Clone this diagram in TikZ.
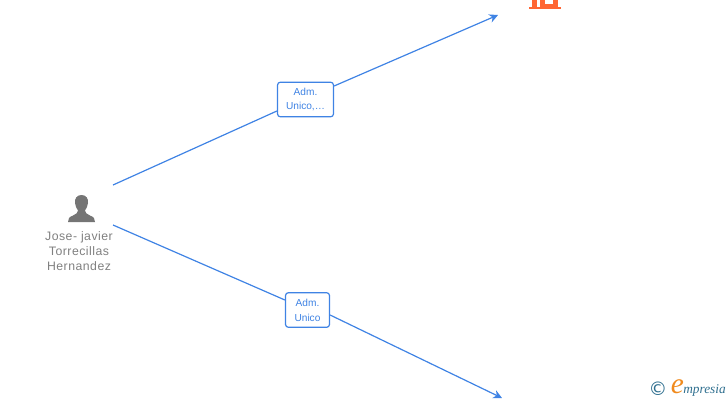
\documentclass[tikz,border=0pt]{standalone}
\usepackage{fontspec}
\setmainfont{Liberation Sans}
\newfontfamily\logosym{DejaVu Sans}
\newfontfamily\personfont[LetterSpace=4]{Liberation Sans}
\newfontfamily\logoserif{Liberation Serif}
\usetikzlibrary{arrows.meta}
\definecolor{edgeblue}{HTML}{3F83E4}
\definecolor{persongray}{HTML}{757575}
\definecolor{labelgray}{HTML}{808080}
\definecolor{orangeicon}{HTML}{FF6633}
\definecolor{teallogo}{HTML}{2F6F8F}
\definecolor{logoorange}{HTML}{F08A1D}
\tikzset{
  x=0.75pt,y=-0.75pt,
  edge/.style={draw=edgeblue,line width=0.9pt},
  tipedge/.style={edge,-{Stealth[length=6.5pt,width=6.5pt]}},
  rolebox/.style={draw=edgeblue,line width=0.9pt,rounded corners=2.2pt,fill=white,align=center,
    font=\fontsize{7.6pt}{11.2pt}\selectfont,text=edgeblue,inner sep=0pt},
  personlabel/.style={align=center,text=labelgray,font=\personfont\fontsize{9.2pt}{11.3pt}\selectfont,inner sep=0pt},
}
\begin{document}
\begin{tikzpicture}
\useasboundingbox (0,0) rectangle (728,400);
\clip (0,0) rectangle (728,400);
% person icon
\fill[persongray] (81.5,195) .. controls (76.5,195) and (74.5,199) .. (75,203)
  .. controls (75.3,206) and (76.5,208.5) .. (78,210.5)
  .. controls (78,213) and (76,214) .. (73,215.5)
  .. controls (69,217) and (68,219) .. (68,222) -- (95,222)
  .. controls (95,219) and (94,217) .. (90,215.5)
  .. controls (87,214) and (85,213) .. (85,210.5)
  .. controls (86.5,208.5) and (87.7,206) .. (88,203)
  .. controls (88.5,199) and (86.5,195) .. (81.5,195) -- cycle;
\node[personlabel] (person) at (79,251) {Jose- javier\\Torrecillas\\Hernandez};
% building icon (cut off by the top edge)
\fill[orangeicon] (529,6.5) rectangle (561,9);
\fill[orangeicon] (532,-2) rectangle (537,7);
\fill[orangeicon] (539.5,-2) rectangle (545,7);
\fill[orangeicon] (553,-2) rectangle (557.5,7);
\fill[orangeicon] (545,4) rectangle (553,7);
% endpoints
\coordinate (startA) at (113,185);
\coordinate (startB) at (113,225);
\coordinate (company) at (498,15);
\coordinate (other) at (502,398);
% role boxes
\node[rolebox,minimum width=42pt,minimum height=26pt] (roleA) at (305.5,99.5) {\raisebox{-1pt}{Adm.}\\\raisebox{-1pt}{Unico,\dots}};
\node[rolebox,minimum width=33pt,minimum height=26pt] (roleB) at (307.5,310) {\raisebox{-1pt}{Adm.}\\\raisebox{-1pt}{Unico}};
% connectors
\draw[edge] (startA) -- (roleA.west |- 0,111);
\draw[tipedge] (roleA.east |- 0,86) -- (company);
\draw[edge] (startB) -- (roleB.west |- 0,300);
\draw[tipedge] (roleB.east |- 0,315) -- (other);
% logo
\node[text=teallogo,font=\logosym\fontsize{14pt}{14pt}\selectfont,inner sep=0pt] (copy) at (658,389) {©};
\node[text=logoorange,font=\logoserif\fontsize{22pt}{22pt}\selectfont\itshape,inner sep=0pt] (logoe) at (677.5,387) {e};
\node[text=teallogo,anchor=west,font=\logoserif\fontsize{10pt}{10pt}\selectfont\itshape,inner sep=0pt] (logotext) at (683,390) {mpresia};
\end{tikzpicture}
\end{document}
